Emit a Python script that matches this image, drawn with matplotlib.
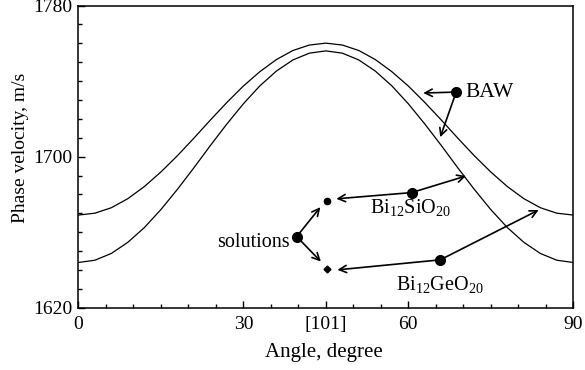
import matplotlib
matplotlib.use("Agg")
import matplotlib.pyplot as plt
from matplotlib.ticker import MultipleLocator

plt.rcParams['font.family'] = ['Liberation Serif', 'DejaVu Serif']
plt.rcParams['mathtext.fontset'] = 'custom'
plt.rcParams['mathtext.rm'] = 'Liberation Serif'

# angle grid (degrees) and BAW phase velocities (m/s)
angle = list(range(0, 91, 3))
baw_upper = [1669.1, 1670.1, 1673.0, 1677.8, 1684.2, 1691.9, 1700.5, 1709.8,
             1719.4, 1728.7, 1737.4, 1745.0, 1751.4, 1756.2, 1759.1, 1760.1,
             1759.1, 1756.2, 1751.4, 1745.0, 1737.4, 1728.7, 1719.4, 1709.8,
             1700.5, 1691.9, 1684.2, 1677.8, 1673.0, 1670.1, 1669.1]
baw_lower = [1644.0, 1645.2, 1648.8, 1654.7, 1662.5, 1672.0, 1682.7, 1694.1,
             1705.9, 1717.3, 1728.0, 1737.5, 1745.3, 1751.2, 1754.8, 1756.0,
             1754.8, 1751.2, 1745.3, 1737.5, 1728.0, 1717.3, 1705.9, 1694.1,
             1682.7, 1672.0, 1662.5, 1654.7, 1648.8, 1645.2, 1644.0]

# solutions (Bi12SiO20 dot, Bi12GeO20 diamond)
sol_angle = [45.3, 45.3]
sol_vel = [1676.8, 1640.6]

xticks = [0, 30, 45, 60, 90]
xticklabels = ['0', '30', '[101]', '60', '90']
yticks = [1620, 1700, 1780]

fig = plt.figure(figsize=(5.85, 3.70), dpi=100)
ax = fig.add_axes([0.134, 0.168, 0.846, 0.817])

ax.plot(angle, baw_upper, color='black', lw=0.9)
ax.plot(angle, baw_lower, color='black', lw=0.9)
ax.plot(sol_angle[0], sol_vel[0], 'o', color='black', ms=4.5)
ax.plot(sol_angle[1], sol_vel[1], 'D', color='black', ms=3.5)

ax.set_xlim(0, 90)
ax.set_ylim(1620, 1780)
ax.set_xticks(xticks)
ax.set_xticklabels(xticklabels)
ax.xaxis.set_minor_locator(MultipleLocator(5))
ax.set_yticks(yticks)
ax.yaxis.set_minor_locator(MultipleLocator(10))
ax.tick_params(direction='in', labelsize=14, width=1, length=5)
ax.tick_params(which='minor', direction='in', width=1, length=3)
ax.tick_params(axis='x', pad=6)
ax.tick_params(axis='y', pad=4.5)
for s in ax.spines.values():
    s.set_linewidth(1.1)

ax.set_xlabel('Angle, degree', fontsize=15, va='center', ha='center')
ax.set_ylabel('Phase velocity, m/s', fontsize=14, va='center', ha='center')
ax.xaxis.set_label_coords(0.496, -0.149)
ax.yaxis.set_label_coords(-0.116, 0.528)

arr = dict(arrowstyle='->', lw=1.2, color='black', shrinkA=0, shrinkB=0,
           mutation_scale=13)

def pointer(start, ends, label, text_xy, ha='left', size=14.5):
    ax.plot(*start, 'o', color='black', ms=7)
    for e in ends:
        ax.annotate('', xy=e, xytext=start, arrowprops=arr)
    ax.text(*text_xy, label, fontsize=size, ha=ha, va='center')

pointer((68.7, 1734.2), [(62.7, 1733.7), (65.8, 1710.3)], 'BAW',
        (70.3, 1734.2), size=15.5)
pointer((39.7, 1657.7), [(44.0, 1673.3), (44.1, 1644.5)], 'solutions',
        (38.4, 1654.5), ha='right')
pointer((60.6, 1681.0), [(46.9, 1677.7), (70.5, 1689.8)],
        r'Bi$_\mathregular{12}$SiO$_\mathregular{20}$', (53.0, 1672.5))
pointer((65.8, 1645.4), [(47.1, 1640.1), (83.7, 1671.8)],
        r'Bi$_\mathregular{12}$GeO$_\mathregular{20}$', (57.8, 1632.0))

fig.savefig('out.png', dpi=100)
